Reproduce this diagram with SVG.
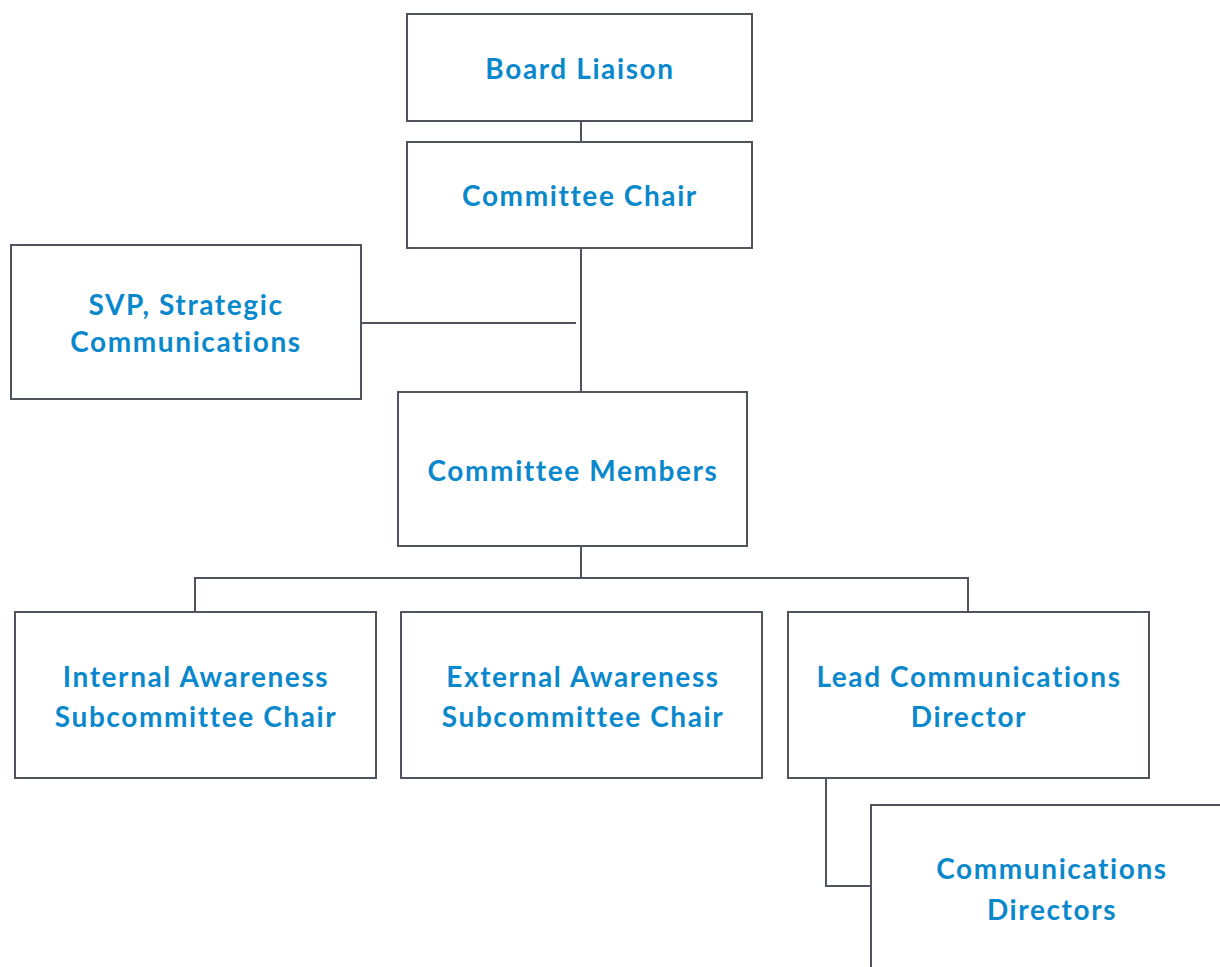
<svg xmlns="http://www.w3.org/2000/svg" width="1220" height="967" viewBox="0 0 1220 967">
<style>
.box{fill:#fff;stroke:#50545c;stroke-width:2}
.ln{fill:none;stroke:#50545c;stroke-width:2}
text{font-family:Lato,"Noto Sans","Liberation Sans",sans-serif;font-weight:bold;font-size:28px;letter-spacing:1.6px;fill:#0a88cc;text-anchor:middle}
</style>
<rect width="1220" height="967" fill="#fff"/>
<g id="connectors">
<path class="ln" d="M581 121V142M581 248V392M361 323H576M581 546V578M195 612V578H968V612M826 778V886H871"/>
</g>
<g id="board-liaison"><rect class="box" x="407" y="14" width="345" height="107"/><text x="580" y="79">Board Liaison</text></g>
<g id="committee-chair"><rect class="box" x="407" y="142" width="345" height="106"/><text x="580" y="206">Committee Chair</text></g>
<g id="svp"><rect class="box" x="11" y="245" width="350" height="154"/><text x="186" y="315">SVP, Strategic</text><text x="186" y="352">Communications</text></g>
<g id="committee-members"><rect class="box" x="398" y="392" width="349" height="154"/><text x="573" y="481">Committee Members</text></g>
<g id="internal"><rect class="box" x="15" y="612" width="361" height="166"/><text x="196" y="687">Internal Awareness</text><text x="196" y="727">Subcommittee Chair</text></g>
<g id="external"><rect class="box" x="401" y="612" width="361" height="166"/><text x="583" y="687">External Awareness</text><text x="583" y="727">Subcommittee Chair</text></g>
<g id="lead"><rect class="box" x="788" y="612" width="361" height="166"/><text x="969" y="687">Lead Communications</text><text x="969" y="727">Director</text></g>
<g id="comm-directors"><rect class="box" x="871" y="805" width="361" height="175"/><text x="1052" y="879">Communications</text><text x="1052" y="920">Directors</text></g>
</svg>
